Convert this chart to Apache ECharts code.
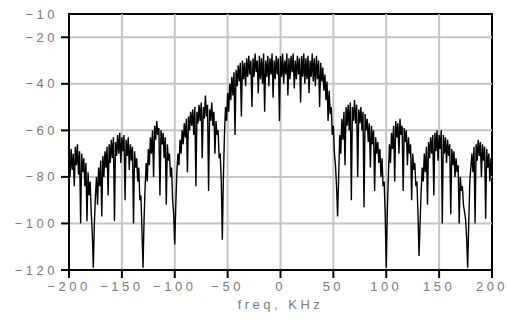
<!DOCTYPE html>
<html><head><meta charset="utf-8">
<script src="https://cdn.jsdelivr.net/npm/echarts@6/dist/echarts.min.js"></script>
<style>
html,body{margin:0;padding:0;background:#fff;}
#c{width:507px;height:335px;}
#c svg text{letter-spacing:3.5px;}
</style></head><body><div id="c"></div>
<script>
// Spectrum values (dB), 1 kHz apart, each lobe with its start frequency
const lobeFarLeftStart = -200;
const lobeFarLeft = [-72,-80,-68,-77,-70,-84,-67,-75,-66,-79,-69,-100,-70,-78,-72,-84,-74,-99,-78,-88,-82,-95,-104,-119,-100];
const lobeLeft3Start = -175;
const lobeLeft3 = [-88,-80,-92,-76,-84,-73,-97,-71,-80,-69,-76,-67,-88,-66,-74,-64,-72,-63,-99,-65,-71,-62,-70,-61,-74,-63,-69,-62,-90,-64,-71,-63,-77,-66,-73,-67,-100,-69,-76,-72,-82,-76,-90,-88,-103,-119,-98];
const lobeLeft2Start = -128;
const lobeLeft2 = [-84,-74,-82,-68,-75,-63,-70,-60,-80,-58,-64,-56,-62,-59,-88,-60,-66,-61,-72,-63,-92,-66,-73,-70,-80,-76,-90,-96,-109,-92];
const lobeLeft1Start = -98;
const lobeLeft1 = [-78,-70,-75,-64,-70,-60,-66,-57,-63,-55,-78,-54,-60,-52,-58,-51,-62,-50,-84,-52,-57,-49,-56,-48,-72,-50,-55,-45,-54,-49,-86,-51,-56,-48,-58,-52,-70,-56,-62,-60,-72,-70,-82,-107,-80];
const mainLobeStart = -53;
const mainLobe = [-62,-50,-56,-44,-52,-40,-47,-37,-45,-35,
  -62,-34,-41,-32,-39,-31,-54,-30,-38,-31,
  -41,-29,-37,-28,-36,-30,-50,-29,-37,-27,
  -35,-30,-44,-28,-38,-29,-40,-27,-52,-30,
  -37,-28,-41,-29,-36,-27,-46,-30,-38,-28,
  -36,-29,-56,-28,-37,-27,-40,-30,-36,-27,
  -45,-29,-38,-28,-35,-27,-42,-30,-38,-28,
  -36,-29,-48,-28,-37,-27,-40,-29,-38,-28,
  -44,-30,-37,-27,-39,-29,-41,-28,-38,-30,
  -50,-31,-39,-33,-43,-36,-47,-39,-56,-43,
  -53,-50,-62,-58,-70,-75,-84,-97,-80];
const lobeRight1Start = 56;
const lobeRight1 = [-62,-70,-55,-64,-52,-75,-50,-58,-49,-60,-48,-90,-50,-56,-47,-57,-49,-80,-51,-57,-50,-60,-52,-93,-53,-60,-55,-65,-57,-76,-58,-66,-60,-86,-63,-70,-65,-74,-68,-80,-72,-84,-82,-96,-119,-95];
const lobeRight2Start = 102;
const lobeRight2 = [-80,-66,-74,-61,-68,-58,-82,-56,-63,-57,-70,-55,-62,-58,-86,-59,-65,-60,-75,-63,-70,-66,-90,-70,-77,-74,-84,-82,-96,-114,-100];
const lobeRight3Start = 133;
const lobeRight3 = [-86,-76,-82,-70,-78,-67,-92,-65,-72,-63,-70,-62,-88,-61,-69,-60,-73,-62,-68,-60,-100,-62,-70,-63,-74,-64,-71,-66,-96,-68,-75,-69,-80,-72,-78,-75,-100,-80,-86,-84,-92,-95,-98,-106,-119,-100];
const lobeFarRightStart = 179;
const lobeFarRight = [-82,-76,-70,-78,-67,-100,-66,-73,-64,-71,-65,-80,-66,-73,-67,-98,-68,-76,-70,-82,-72,-78];

const xTicks = [-200,-150,-100,-50,0,50,100,150,200];
const yTickValues = [-120,-100,-80,-60,-40,-20];
const yLabelValues = [-120,-100,-80,-60,-40,-20,-10];
const xTitle = 'freq, KHz';

const segments = [
  [lobeFarLeftStart, lobeFarLeft], [lobeLeft3Start, lobeLeft3], [lobeLeft2Start, lobeLeft2],
  [lobeLeft1Start, lobeLeft1], [mainLobeStart, mainLobe], [lobeRight1Start, lobeRight1],
  [lobeRight2Start, lobeRight2], [lobeRight3Start, lobeRight3], [lobeFarRightStart, lobeFarRight]
];
const data = [];
segments.forEach(([s, arr]) => arr.forEach((v, i) => data.push([s + i, v])));

const fmt = v => (v < 0 ? '\u2212' + Math.abs(v) : String(v));
const labelColor = '#7a7a7a';
const font = 'Liberation Sans';
const tickLen = 8;
const xMin = xTicks[0], xMax = xTicks[xTicks.length - 1];
const yMin = yTickValues[0], yMax = yLabelValues[yLabelValues.length - 1];

// Grid lines and tick marks, placed through the axes' own scales (api.coord)
function markSeries(values, kind, z) {
  return {
    type: 'custom', silent: true, clip: false, z: z,
    data: values.map(v => [v]),
    renderItem: (params, api) => {
      const v = api.value(0);
      let shape, fill;
      if (kind === 'vgrid') {
        const a = api.coord([v, yMin]), b = api.coord([v, yMax]);
        shape = {x: a[0] - 1, y: b[1], width: 2, height: a[1] - b[1]}; fill = '#c4c4c4';
      } else if (kind === 'hgrid') {
        const a = api.coord([xMin, v]), b = api.coord([xMax, v]);
        shape = {x: a[0], y: a[1] - 1, width: b[0] - a[0], height: 2}; fill = '#c4c4c4';
      } else if (kind === 'xtick') {
        const a = api.coord([v, yMin]);
        shape = {x: a[0] - 1, y: a[1], width: 2, height: tickLen}; fill = '#000';
      } else {
        const a = api.coord([xMin, v]);
        shape = {x: a[0] - tickLen, y: a[1] - 1, width: tickLen, height: 2}; fill = '#000';
      }
      return {type: 'rect', shape: shape, style: {fill: fill}};
    }
  };
}

const chart = echarts.init(document.getElementById('c'), null, {renderer: 'svg'});
chart.setOption({
  animation: false,
  backgroundColor: '#fff',
  grid: {left: 69, right: 15, top: 14, bottom: 65, show: true, borderColor: '#000', borderWidth: 2, backgroundColor: 'transparent'},
  xAxis: {
    type: 'value', min: xMin, max: xMax, interval: 50,
    axisLine: {show: true, onZero: false, lineStyle: {color: '#000', width: 2}},
    axisTick: {show: false},
    splitLine: {show: false},
    axisLabel: {color: labelColor, fontSize: 13, fontFamily: font, margin: 10, formatter: fmt},
    name: xTitle, nameLocation: 'middle', nameGap: 24,
    nameTextStyle: {color: labelColor, fontSize: 13, fontFamily: font}
  },
  yAxis: {
    type: 'value', min: yMin, max: yMax, interval: 20,
    axisLine: {show: true, onZero: false, lineStyle: {color: '#000', width: 2}},
    axisTick: {show: false},
    splitLine: {show: false},
    axisLabel: {color: labelColor, fontSize: 13, fontFamily: font, margin: 11, customValues: yLabelValues, formatter: fmt}
  },
  series: [
    markSeries(xTicks.slice(1, -1), 'vgrid', 0),
    markSeries(yTickValues.slice(1), 'hgrid', 0),
    {
      type: 'line', data: data, showSymbol: false, symbol: 'none', silent: true, z: 3,
      lineStyle: {color: '#000', width: 1.4}
    },
    markSeries(xTicks, 'xtick', 10),
    markSeries(yTickValues, 'ytick', 10)
  ]
});
</script></body></html>
